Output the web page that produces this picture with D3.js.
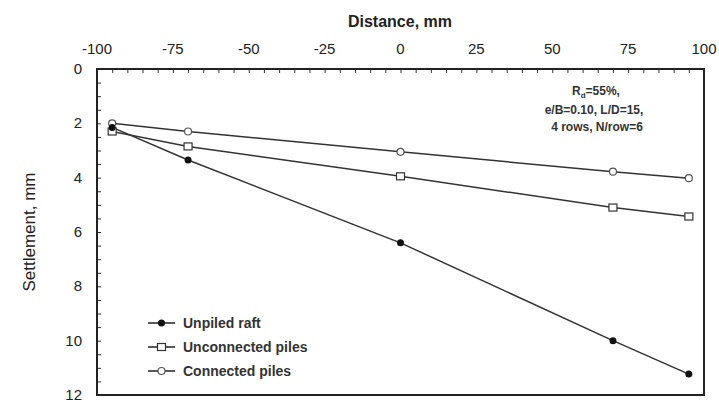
<!DOCTYPE html>
<html>
<head>
<meta charset="utf-8">
<script src="https://cdn.jsdelivr.net/npm/d3@7"></script>
<style>
	body { margin: 0; background: #fff; }
	svg { display: block; font-family: "Liberation Sans", Arial, sans-serif; }
</style>
</head>
<body>
<div id="chart"></div>
<script>

// distance along the raft, mm
var distances = [-95, -70, 0, 70, 95];

// settlement, mm
var unpiledRaft = [2.15, 3.35, 6.4, 10.0, 11.23];
var unconnectedPiles = [2.3, 2.85, 3.95, 5.1, 5.43];
var connectedPiles = [2.0, 2.3, 3.05, 3.78, 4.02];

var seriesNames = ["Unpiled raft", "Unconnected piles", "Connected piles"];
var xTicks = [-100, -75, -50, -25, 0, 25, 50, 75, 100];
var yTicks = [0, 2, 4, 6, 8, 10, 12];

var width = 719, height = 404;
var plotLeft = 97, plotRight = 704, plotTop = 69, plotBottom = 395;

var svg = d3.select("#chart")
	.append("svg")
	.attr("width", width)
	.attr("height", height);

var x = d3.scaleLinear().domain([-100, 100]).range([plotLeft, plotRight]);
var y = d3.scaleLinear().domain([0, 12]).range([plotTop, plotBottom]);

// minor ticks, pointing inwards
var xAxis = d3.axisBottom(x)
	.tickValues(d3.range(-100, 101, 5))
	.tickSize(4)
	.tickFormat("");
svg.append("g")
	.attr("transform", "translate(0," + plotTop + ")")
	.call(xAxis)
	.call(function(g) { g.select(".domain").remove(); })
	.selectAll("line").attr("stroke", "#333");

var yAxis = d3.axisRight(y)
	.tickValues(d3.range(0, 12.01, 0.5))
	.tickSize(4)
	.tickFormat("");
svg.append("g")
	.attr("transform", "translate(" + plotLeft + ",0)")
	.call(yAxis)
	.call(function(g) { g.select(".domain").remove(); })
	.selectAll("line").attr("stroke", "#333");

// tick labels
svg.append("g").selectAll("text")
	.data(xTicks)
	.enter().append("text")
	.attr("x", function(d) { return x(d); })
	.attr("y", 54)
	.attr("text-anchor", "middle")
	.style("font-size", "15px")
	.style("fill", "#222")
	.text(function(d) { return d; });

svg.append("g").selectAll("text")
	.data(yTicks)
	.enter().append("text")
	.attr("x", 82)
	.attr("y", function(d) { return y(d) + 5; })
	.attr("text-anchor", "end")
	.style("font-size", "15px")
	.style("fill", "#222")
	.text(function(d) { return d; });

// frame
svg.append("rect")
	.attr("x", plotLeft)
	.attr("y", plotTop)
	.attr("width", plotRight - plotLeft)
	.attr("height", plotBottom - plotTop)
	.attr("fill", "none")
	.attr("stroke", "#222")
	.attr("stroke-width", 2);

// axis titles
svg.append("text")
	.attr("x", 400)
	.attr("y", 27)
	.attr("text-anchor", "middle")
	.style("font-size", "16px")
	.style("font-weight", "bold")
	.style("fill", "#222")
	.text("Distance, mm");

svg.append("text")
	.attr("transform", "translate(35,232) rotate(-90)")
	.attr("text-anchor", "middle")
	.style("font-size", "17px")
	.style("fill", "#222")
	.text("Settlement, mm");

// series
var series = [
	{ name: seriesNames[0], values: unpiledRaft, marker: "dot" },
	{ name: seriesNames[1], values: unconnectedPiles, marker: "square" },
	{ name: seriesNames[2], values: connectedPiles, marker: "circle" }
];

var line = d3.line()
	.x(function(d, i) { return x(distances[i]); })
	.y(function(d) { return y(d); });

function drawMarker(g, type, cx, cy) {
	if (type === "dot") {
		g.append("circle").attr("cx", cx).attr("cy", cy).attr("r", 3.5)
			.attr("fill", "#111");
	} else if (type === "square") {
		g.append("rect").attr("x", cx - 4).attr("y", cy - 3.5)
			.attr("width", 8).attr("height", 7)
			.attr("fill", "#fff").attr("stroke", "#333").attr("stroke-width", 1.2);
	} else {
		g.append("circle").attr("cx", cx).attr("cy", cy).attr("r", 3.5)
			.attr("fill", "#fff").attr("stroke", "#555").attr("stroke-width", 1.2);
	}
}

series.forEach(function(s) {
	svg.append("path")
		.datum(s.values)
		.attr("d", line)
		.attr("fill", "none")
		.attr("stroke", "#333")
		.attr("stroke-width", 1.5);
});

series.slice().reverse().forEach(function(s) {
	var g = svg.append("g");
	s.values.forEach(function(v, i) {
		drawMarker(g, s.marker, x(distances[i]), y(v));
	});
});

// legend
var legend = svg.append("g");
series.forEach(function(s, i) {
	var ly = 323 + i * 24;
	legend.append("line")
		.attr("x1", 148).attr("x2", 175)
		.attr("y1", ly).attr("y2", ly)
		.attr("stroke", "#222").attr("stroke-width", 1.5);
	drawMarker(legend, s.marker, 161.5, ly);
	legend.append("text")
		.attr("x", 183)
		.attr("y", ly + 5)
		.style("font-size", "14px")
		.style("font-weight", "bold")
		.style("fill", "#333")
		.text(s.name);
});

// annotation
var note = svg.append("text")
	.attr("text-anchor", "middle")
	.style("font-size", "12px")
	.style("font-weight", "bold")
	.style("fill", "#333");
var l1 = note.append("tspan").attr("x", 596).attr("y", 95);
l1.append("tspan").text("R");
l1.append("tspan").attr("dy", 3).style("font-size", "8px").text("d");
l1.append("tspan").attr("dy", -3).text("=55%,");
note.append("tspan").attr("x", 594).attr("y", 114).text("e/B=0.10, L/D=15,");
note.append("tspan").attr("x", 597).attr("y", 131).text("4 rows, N/row=6");

</script>
</body>
</html>
